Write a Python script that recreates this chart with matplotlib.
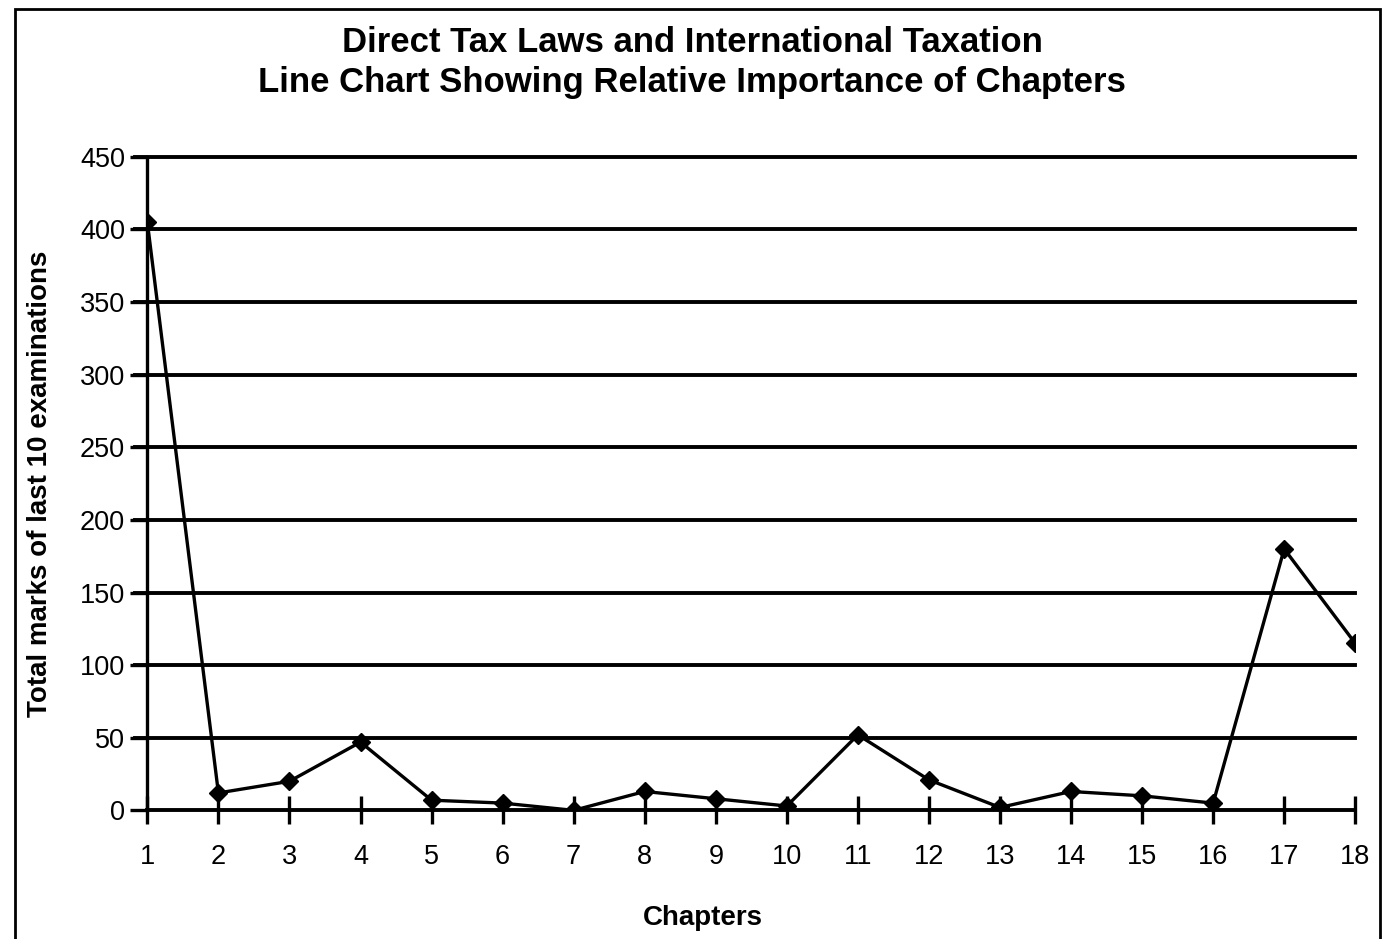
import matplotlib.pyplot as plt
from matplotlib.patches import Rectangle

chapters = list(range(1, 19))
marks = [405, 12, 20, 47, 7, 5, 0, 13, 8, 3, 52, 21, 2, 13, 10, 5, 180, 115]
y_ticks = [0, 50, 100, 150, 200, 250, 300, 350, 400, 450]

title = "Direct Tax Laws and International Taxation\nLine Chart Showing Relative Importance of Chapters"

plt.rcParams["font.family"] = ["Liberation Sans", "DejaVu Sans"]

fig = plt.figure(figsize=(13.9, 9.39), dpi=100)
ax = fig.add_axes([0.106, 0.137, 0.869, 0.696])

# horizontal gridlines at every tick
for v in y_ticks[1:]:
    ax.axhline(v, color="black", lw=2.8, xmin=-0.01, clip_on=False, zorder=1)

ax.plot(chapters, marks, color="black", lw=2.4, marker="D", markersize=9.5, zorder=3)

ax.set_xlim(1, 18)
ax.set_ylim(0, 450)
ax.set_xticks(chapters)
ax.set_yticks(y_ticks)
ax.tick_params(axis="x", direction="inout", length=20, width=2.4, labelsize=19.5, pad=14)
ax.tick_params(axis="y", direction="out", length=12, width=2.4, labelsize=19.5, pad=4)

for side in ["top", "right"]:
    ax.spines[side].set_visible(False)
ax.spines["left"].set_linewidth(2.4)
ax.spines["bottom"].set_linewidth(2.8)

ax.set_xlabel("Chapters", fontsize=20, fontweight="bold")
ax.xaxis.set_label_coords(0.46, -0.145)
ax.set_ylabel("Total marks of last 10 examinations", fontsize=20, fontweight="bold")
ax.yaxis.set_label_coords(-0.078, 0.5)

fig.suptitle(title, fontsize=25, fontweight="bold", y=0.972, x=0.498, linespacing=1.25)

# page frame
fig.patches.append(Rectangle((0.011, -0.02), 0.982, 1.01, transform=fig.transFigure,
                             fill=False, lw=2.0, color="black"))

fig.savefig("out.png", dpi=100)
